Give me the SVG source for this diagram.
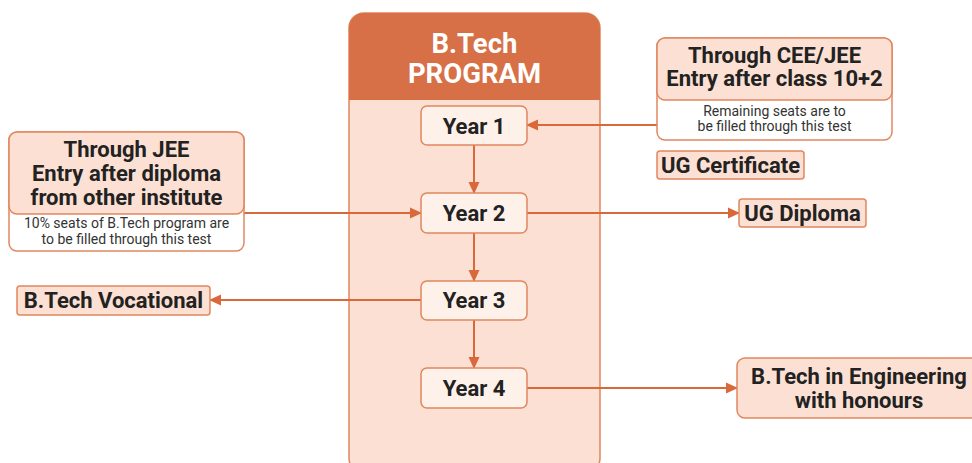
<svg xmlns="http://www.w3.org/2000/svg" width="972" height="463" viewBox="0 0 972 463">
<defs>
<marker id="arr" markerUnits="userSpaceOnUse" markerWidth="12" markerHeight="12" viewBox="0 0 12 12" refX="11" refY="6" orient="auto">
<path d="M0,0.5 L12,6 L0,11.5 Z" fill="#D9693A"/>
</marker>
<style>
.t{font-family:Roboto,"Liberation Sans",sans-serif;font-weight:bold;fill:#222;text-anchor:middle;font-size:22px}
.s{font-family:Roboto,"Liberation Sans",sans-serif;font-size:14px;fill:#333;text-anchor:middle}
.pk{fill:#FCE0D3;stroke:#E0875F;stroke-width:1.5}
.wh{fill:#FFFFFF;stroke:#E0875F;stroke-width:1.5}
.yr{fill:#FEF1EA;stroke:#E0875F;stroke-width:1.5}
.ln{stroke:#D9693A;stroke-width:2;fill:none;marker-end:url(#arr)}
</style>
</defs>
<rect width="972" height="463" fill="#FFFFFF"/>
<g id="program">
<rect x="349" y="13" width="251" height="460" rx="15" class="pk"/>
<path d="M349,100 V28 A15,15 0 0 1 364,13 H585 A15,15 0 0 1 600,28 V100 Z" fill="#D77046"/>
<text class="t" x="474.5" y="52.5" style="fill:#FFFFFF;font-size:27.5px">B.Tech</text>
<text class="t" x="474.5" y="82.5" style="fill:#FFFFFF;font-size:27.5px">PROGRAM</text>
</g>
<g id="connectors">
<line x1="474" y1="145" x2="474" y2="193" class="ln"/>
<line x1="474" y1="233" x2="474" y2="281" class="ln"/>
<line x1="474" y1="320" x2="474" y2="368" class="ln"/>
<line x1="657" y1="125" x2="527" y2="125" class="ln"/>
<line x1="244" y1="213" x2="421" y2="213" class="ln"/>
<line x1="527" y1="213" x2="739" y2="213" class="ln"/>
<line x1="421" y1="300" x2="210" y2="300" class="ln"/>
<line x1="527" y1="388" x2="737" y2="388" class="ln"/>
</g>
<g id="year1">
<rect x="421" y="106" width="106" height="39" rx="6" class="yr"/>
<text class="t" x="474" y="134">Year 1</text>
</g>
<g id="year2">
<rect x="421" y="193" width="106" height="40" rx="6" class="yr"/>
<text class="t" x="474" y="221">Year 2</text>
</g>
<g id="year3">
<rect x="421" y="281" width="106" height="39" rx="6" class="yr"/>
<text class="t" x="474" y="308">Year 3</text>
</g>
<g id="year4">
<rect x="421" y="368" width="106" height="40" rx="6" class="yr"/>
<text class="t" x="474" y="396">Year 4</text>
</g>
<g id="cee-jee">
<rect x="657" y="38" width="235" height="102" rx="8" class="wh"/>
<rect x="657" y="38" width="235" height="62" rx="8" class="pk"/>
<text class="t" x="774.5" y="63">Through CEE/JEE</text>
<text class="t" x="774.5" y="86">Entry after class 10+2</text>
<text class="s" x="774.5" y="116">Remaining seats are to</text>
<text class="s" x="774.5" y="131">be filled through this test</text>
</g>
<g id="ug-certificate">
<rect x="657" y="151" width="147" height="28" rx="3" class="pk"/>
<text class="t" x="730.5" y="173">UG Certificate</text>
</g>
<g id="jee">
<rect x="9" y="132" width="235" height="119" rx="8" class="wh"/>
<rect x="9" y="132" width="235" height="82" rx="8" class="pk"/>
<text class="t" x="126.5" y="157">Through JEE</text>
<text class="t" x="126.5" y="181">Entry after diploma</text>
<text class="t" x="126.5" y="205">from other institute</text>
<text class="s" x="126.5" y="228">10% seats of B.Tech program are</text>
<text class="s" x="126.5" y="244">to be filled through this test</text>
</g>
<g id="ug-diploma">
<rect x="739" y="199" width="127" height="28" rx="3" class="pk"/>
<text class="t" x="802.5" y="221">UG Diploma</text>
</g>
<g id="vocational">
<rect x="17" y="286" width="193" height="29" rx="3" class="pk"/>
<text class="t" x="113.5" y="308">B.Tech Vocational</text>
</g>
<g id="honours">
<rect x="737" y="358" width="245" height="60" rx="8" class="pk"/>
<text class="t" x="859" y="384">B.Tech in Engineering</text>
<text class="t" x="859" y="408">with honours</text>
</g>
</svg>
